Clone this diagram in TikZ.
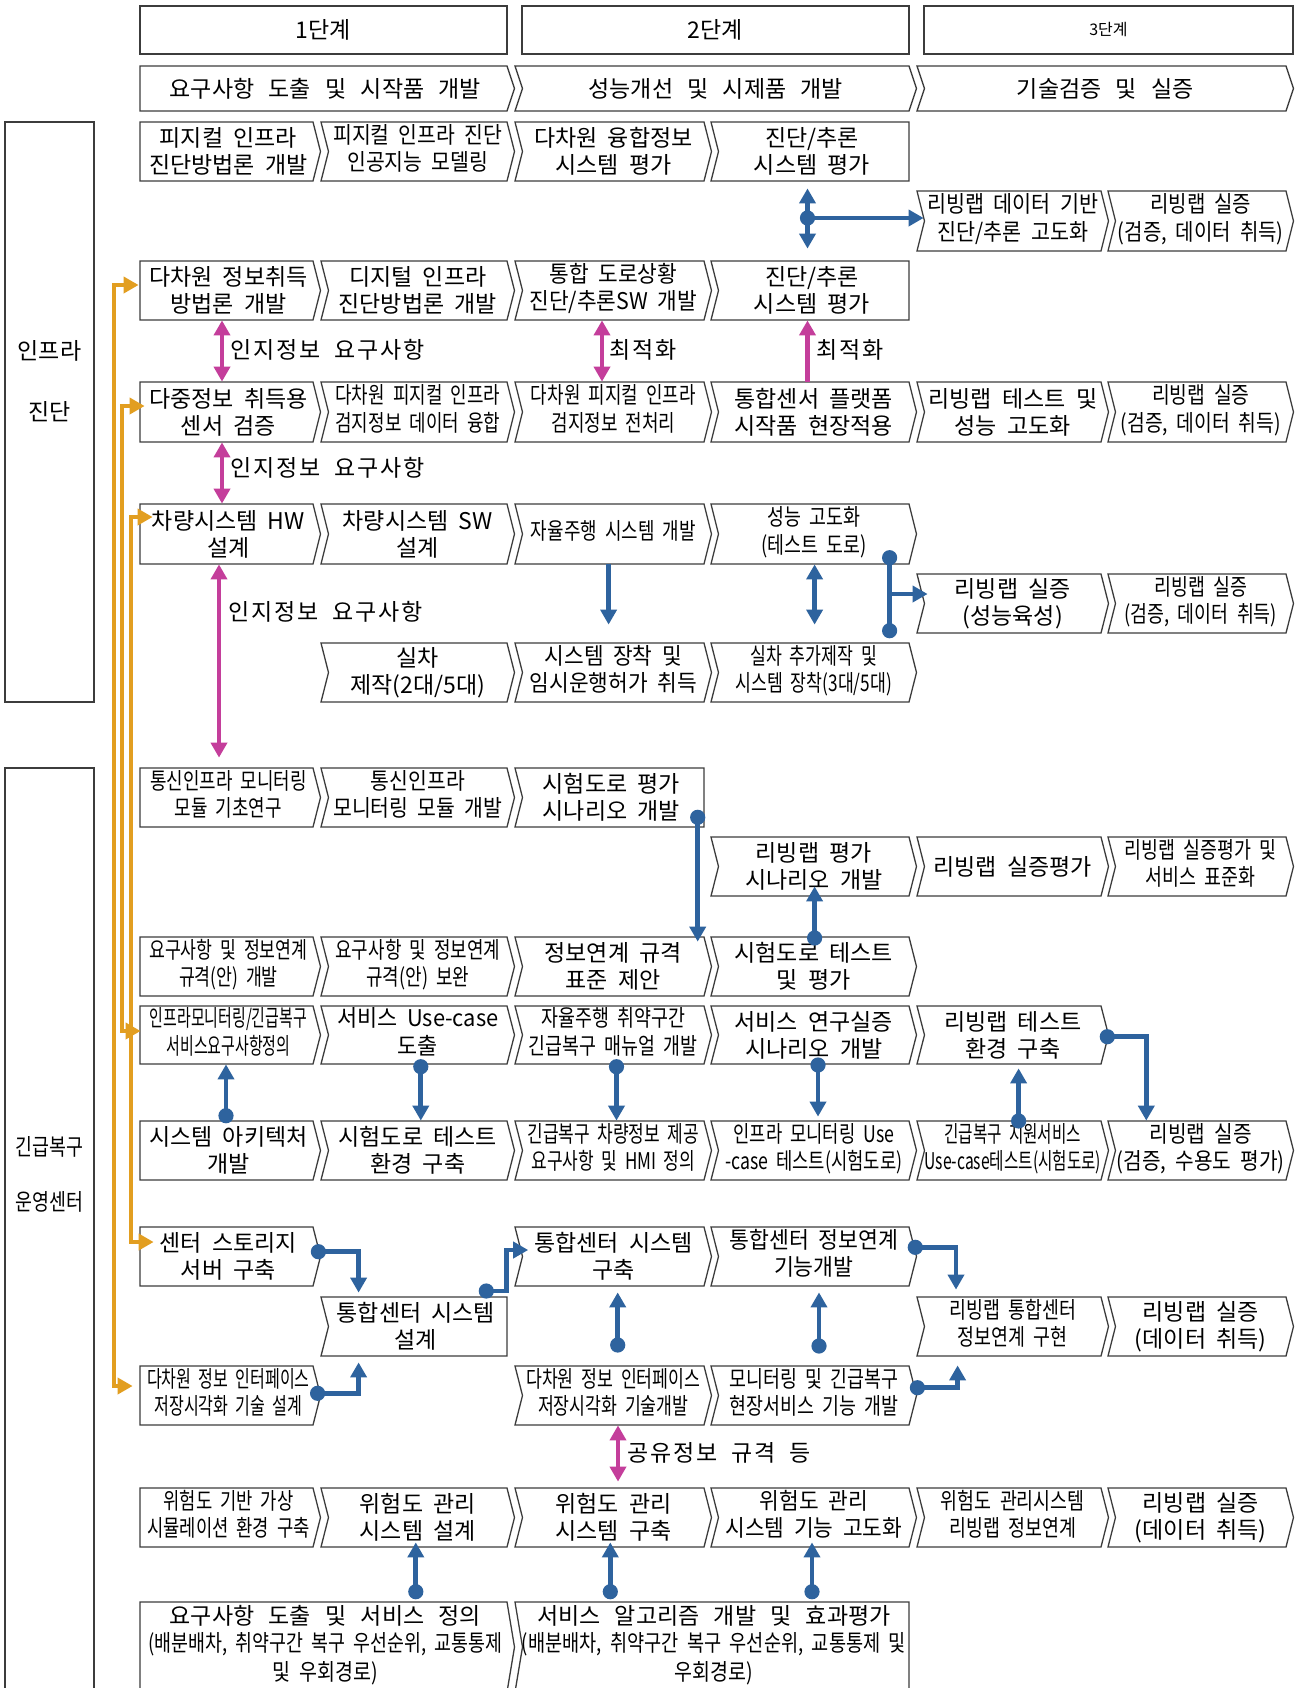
\documentclass[tikz,border=0pt]{standalone}
\usepackage{fontspec}
\setmainfont{Noto Sans CJK KR}[WordSpace=2]
\usepackage{graphicx}
\usetikzlibrary{arrows.meta,calc}
\definecolor{blu}{RGB}{46,99,158}
\definecolor{mag}{RGB}{196,62,155}
\definecolor{org}{RGB}{226,158,32}
\definecolor{edge}{RGB}{60,60,60}
\newcommand\tx[2]{\scalebox{#1}[1]{\begin{tabular}{@{}c@{}}#2\end{tabular}}}
\newcommand\w{\hspace{2pt}}
% name x1 x2 y1 y2 leftnotch righttip text
\newcommand\cb[8]{%
  \ifnum#6=1 \def\lpart{-- ({#2+7.5},{(#4+#5)/2})}\else\def\lpart{}\fi
  \ifnum#7=1 \def\rpart{-- ({#3+7.5},{(#4+#5)/2})}\else\def\rpart{}\fi
  \draw[boxline] (#2,#4) -- (#3,#4) \rpart -- (#3,#5) -- (#2,#5) \lpart -- cycle;
  \node[boxarea,minimum width={(#3-#2)*0.5pt},minimum height={(#5-#4)*0.5pt}] (#1) at ({(#2+#3)/2},{(#4+#5)/2}) {};
  \node[boxtext] (#1t) at ({(#2+#3)/2+1.9*(#6+#7)},{(#4+#5)/2}) {#8};}
\begin{document}
\begin{tikzpicture}[x=0.5pt,y=-0.5pt,
  boxline/.style={draw=edge,line width=0.65pt,line join=miter},
  boxarea/.style={inner sep=0pt},
  boxtext/.style={inner sep=0pt,align=center,font=\fontsize{11.5}{13.5}\selectfont,text=black},
  blD/.style={draw=blu,line width=2.4pt,-{Triangle[width=8pt,length=7.5pt]}},
  bl2/.style={draw=blu,line width=2.4pt,{Triangle[width=8pt,length=7.5pt]}-{Triangle[width=8pt,length=7.5pt]}},
  blL/.style={draw=blu,line width=2.4pt},
  mg/.style={draw=mag,line width=2.4pt,{Triangle[width=8pt,length=7.5pt]}-{Triangle[width=8pt,length=7.5pt]}},
  mg1/.style={draw=mag,line width=2.4pt,-{Triangle[width=8pt,length=7.5pt]}},
  og/.style={draw=org,line width=2.2pt,{Triangle[width=8pt,length=7.5pt]}-{Triangle[width=8pt,length=7.5pt]}},
  bdot/.style={circle,fill=blu,inner sep=0pt,minimum size=7.6pt},
  lbl/.style={inner sep=0pt,anchor=west,font=\fontsize{11.5}{13}\selectfont\addfontfeature{LetterSpace=8}},
]
\useasboundingbox (0,0) rectangle (1301,1688);
\fill[white] (0,0) rectangle (1301,1688);
\clip (0,0) rectangle (1301,1688);

% headers
\cb{h1}{140}{507}{6}{54}{0}{0}{1단계}
\cb{h2}{522}{909}{6}{54}{0}{0}{2단계}
\cb{h3}{924}{1293}{6}{54}{0}{0}{\fontsize{8}{9}\selectfont 3단계}
\cb{p1}{140}{507}{66}{111}{0}{1}{요구사항 \w 도출 \w 및 \w 시작품 \w 개발}
\cb{p2}{515}{909}{66}{111}{1}{1}{성능개선 \w 및 \w 시제품 \w 개발}
\cb{p3}{917}{1286}{66}{111}{1}{1}{기술검증 \w 및 \w 실증}

% group boxes
\cb{g1}{5}{94}{122}{702}{0}{0}{}
\cb{g2}{5}{94}{768}{1720}{0}{0}{}
\node[boxtext] (g1a) at (49.5,351) {인프라};
\node[boxtext] (g1b) at (49.5,412) {진단};
\node[boxtext] (g2a) at (49.5,1150) {\tx{0.8}{긴급복구}};
\node[boxtext] (g2b) at (49.5,1205) {\tx{0.8}{운영센터}};

% row 1
\cb{n1A}{140}{313}{122}{181}{0}{1}{피지컬 인프라\\진단방법론 개발}
\cb{n1B}{321}{507}{122}{181}{1}{1}{\tx{0.89}{피지컬 인프라 진단\\인공지능 모델링}}
\cb{n1C}{515}{704}{122}{181}{1}{1}{다차원 융합정보\\시스템 평가}
\cb{n1D}{711}{909}{122}{181}{1}{0}{진단/추론\\시스템 평가}
\cb{nPE}{917}{1101}{191}{251}{1}{1}{\tx{0.9}{리빙랩 데이터 기반\\진단/추론 고도화}}
\cb{nPF}{1108}{1286}{191}{251}{1}{1}{\tx{0.87}{리빙랩 실증\\(검증, 데이터 취득)}}
% row 2
\cb{n2A}{140}{313}{261}{320}{0}{1}{다차원 정보취득\\방법론 개발}
\cb{n2B}{321}{507}{261}{320}{1}{1}{디지털 인프라\\진단방법론 개발}
\cb{n2C}{515}{704}{261}{320}{1}{1}{\tx{0.93}{통합 도로상황\\진단/추론SW 개발}}
\cb{n2D}{711}{909}{261}{320}{1}{0}{진단/추론\\시스템 평가}
% row 3
\cb{n3A}{140}{313}{382}{442}{0}{1}{다중정보 취득용\\센서 검증}
\cb{n3B}{321}{507}{382}{442}{1}{1}{\tx{0.78}{다차원 피지컬 인프라\\검지정보 데이터 융합}}
\cb{n3C}{515}{704}{382}{442}{1}{1}{\tx{0.78}{다차원 피지컬 인프라\\검지정보 전처리}}
\cb{n3D}{711}{909}{382}{442}{1}{1}{통합센서 플랫폼\\시작품 현장적용}
\cb{n3E}{917}{1101}{382}{442}{1}{1}{리빙랩 테스트 및\\성능 고도화}
\cb{n3F}{1108}{1286}{382}{442}{1}{1}{\tx{0.84}{리빙랩 실증\\(검증, 데이터 취득)}}
% row 4
\cb{n4A}{140}{313}{504}{564}{0}{1}{차량시스템 HW\\설계}
\cb{n4B}{321}{507}{504}{564}{1}{1}{차량시스템 SW\\설계}
\cb{n4C}{515}{704}{504}{564}{1}{1}{\tx{0.78}{자율주행 시스템 개발}}
\cb{n4D}{711}{909}{504}{564}{1}{1}{\tx{0.8}{성능 고도화\\(테스트 도로)}}
\cb{nQE}{917}{1101}{574}{633}{1}{1}{리빙랩 실증\\(성능육성)}
\cb{nQF}{1108}{1286}{574}{633}{1}{1}{\tx{0.8}{리빙랩 실증\\(검증, 데이터 취득)}}
% row 5
\cb{n5B}{321}{507}{643}{702}{1}{1}{실차\\제작(2대/5대)}
\cb{n5C}{515}{704}{643}{702}{1}{1}{\tx{0.93}{시스템 장착 및\\임시운행허가 취득}}
\cb{n5D}{711}{909}{643}{702}{1}{1}{\tx{0.75}{실차 추가제작 및\\시스템 장착(3대/5대)}}
% row 6
\cb{n6A}{140}{313}{768}{827}{0}{1}{\tx{0.78}{통신인프라 모니터링\\모듈 기초연구}}
\cb{n6B}{321}{507}{768}{827}{1}{1}{\tx{0.89}{통신인프라\\모니터링 모듈 개발}}
\cb{n6C}{515}{704}{768}{827}{1}{0}{시험도로 평가\\시나리오 개발}
\cb{nSD}{711}{909}{837}{896}{1}{1}{리빙랩 평가\\시나리오 개발}
\cb{nSE}{917}{1101}{837}{896}{1}{1}{리빙랩 실증평가}
\cb{nSF}{1108}{1286}{837}{896}{1}{1}{\tx{0.8}{리빙랩 실증평가 및\\서비스 표준화}}
% row 7
\cb{n7A}{140}{313}{937}{996}{0}{1}{\tx{0.75}{요구사항 및 정보연계\\규격(안) 개발}}
\cb{n7B}{321}{507}{937}{996}{1}{1}{\tx{0.78}{요구사항 및 정보연계\\규격(안) 보완}}
\cb{n7C}{515}{704}{937}{996}{1}{1}{정보연계 규격\\표준 제안}
\cb{n7D}{711}{909}{937}{996}{1}{1}{시험도로 테스트\\및 평가}
% row 8
\cb{n8A}{140}{313}{1006}{1064}{0}{1}{\tx{0.65}{인프라모니터링/긴급복구\\서비스요구사항정의}}
\cb{n8B}{321}{507}{1006}{1064}{1}{1}{\tx{0.95}{서비스 Use-case\\도출}}
\cb{n8C}{515}{704}{1006}{1064}{1}{1}{\tx{0.8}{자율주행 취약구간\\긴급복구 매뉴얼 개발}}
\cb{n8D}{711}{909}{1006}{1064}{1}{1}{서비스 연구실증\\시나리오 개발}
\cb{n8E}{917}{1101}{1006}{1064}{1}{1}{리빙랩 테스트\\환경 구축}
% row 9
\cb{n9A}{140}{313}{1121}{1180}{0}{1}{시스템 아키텍처\\개발}
\cb{n9B}{321}{507}{1121}{1180}{1}{1}{시험도로 테스트\\환경 구축}
\cb{n9C}{515}{704}{1121}{1180}{1}{1}{\tx{0.74}{긴급복구 차량정보 제공\\요구사항 및 HMI 정의}}
\cb{n9D}{711}{909}{1121}{1180}{1}{1}{\tx{0.77}{인프라 모니터링 Use\\-case 테스트(시험도로)}}
\cb{n9E}{917}{1101}{1121}{1180}{1}{1}{\tx{0.68}{긴급복구 지원서비스\\Use-case테스트(시험도로)}}
\cb{n9F}{1108}{1286}{1121}{1180}{1}{1}{\tx{0.88}{리빙랩 실증\\(검증, 수용도 평가)}}
% row 10
\cb{n10A}{140}{313}{1227}{1286}{0}{1}{센터 스토리지\\서버 구축}
\cb{n10C}{515}{704}{1227}{1286}{1}{1}{통합센터 시스템\\구축}
\cb{n10D}{711}{909}{1227}{1286}{1}{1}{\tx{0.94}{통합센터 정보연계\\기능개발}}
% row 11
\cb{n11B}{321}{507}{1297}{1356}{1}{0}{통합센터 시스템\\설계}
\cb{n11E}{917}{1101}{1297}{1356}{1}{1}{\tx{0.8}{리빙랩 통합센터\\정보연계 구현}}
\cb{n11F}{1108}{1286}{1297}{1356}{1}{1}{리빙랩 실증\\(데이터 취득)}
% row 12
\cb{n12A}{140}{313}{1366}{1425}{0}{1}{\tx{0.7}{다차원 정보 인터페이스\\저장시각화 기술 설계}}
\cb{n12C}{515}{704}{1366}{1425}{1}{1}{\tx{0.75}{다차원 정보 인터페이스\\저장시각화 기술개발}}
\cb{n12D}{711}{909}{1366}{1425}{1}{1}{\tx{0.8}{모니터링 및 긴급복구\\현장서비스 기능 개발}}
% row 13
\cb{n13A}{140}{313}{1488}{1547}{0}{1}{\tx{0.77}{위험도 기반 가상\\시뮬레이션 환경 구축}}
\cb{n13B}{321}{507}{1488}{1547}{1}{1}{위험도 관리\\시스템 설계}
\cb{n13C}{515}{704}{1488}{1547}{1}{1}{위험도 관리\\시스템 구축}
\cb{n13D}{711}{909}{1488}{1547}{1}{1}{\tx{0.93}{위험도 관리\\시스템 기능 고도화}}
\cb{n13E}{917}{1101}{1488}{1547}{1}{1}{\tx{0.8}{위험도 관리시스템\\리빙랩 정보연계}}
\cb{n13F}{1108}{1286}{1488}{1547}{1}{1}{리빙랩 실증\\(데이터 취득)}
% row 14
\cb{n14A}{140}{507}{1602}{1692}{0}{1}{요구사항 \w 도출 \w 및 \w 서비스 \w 정의\\\tx{0.8}{(배분배차, 취약구간 복구 우선순위, 교통통제}\\\tx{0.85}{및 우회경로)}}
\cb{n14C}{515}{909}{1602}{1692}{1}{0}{서비스 \w 알고리즘 \w 개발 \w 및 \w 효과평가\\\tx{0.81}{(배분배차, 취약구간 복구 우선순위, 교통통제 및}\\\tx{0.85}{우회경로)}}

% labels
\node[lbl] (t1) at (230,350) {인지정보 요구사항};
\node[lbl] (t2) at (609,350) {최적화};
\node[lbl] (t3) at (816,350) {최적화};
\node[lbl] (t4) at (230,468) {인지정보 요구사항};
\node[lbl] (t5) at (228,612) {인지정보 요구사항};
\node[lbl] (t6) at (627,1453) {공유정보 규격 등};

% orange
\draw[og] ($(n2A.west |- 0,285)+(-1,0)$) -- (114,285) -- (114,1386) -- ($(n12A.west |- 0,1386)+(-7,0)$);
\draw[og] ($(n3A.west |- 0,406)+(5,0)$) -- (122,406) -- (122,1031) -- ($(n8A.west |- 0,1031)+(1,0)$);
\draw[og] ($(n4A.west |- 0,517)+(13,0)$) -- (131,517) -- (131,1242) -- ($(n10A.west |- 0,1242)+(14,0)$);

% magenta
\draw[mg] (n2A.south -| 222,0) -- (n3A.north -| 222,0);
\draw[mg] (n2C.south -| 602,0) -- (n3C.north -| 602,0);
\draw[mg1] (n3D.north -| 807.5,0) -- (n2D.south -| 807.5,0);
\draw[mg] (n3A.south -| 222,0) -- (n4A.north -| 222,0);
\draw[mg,shorten >=5pt] (n4A.south -| 219,0) -- (n6A.north -| 219,0);
\draw[mg,shorten >=3pt] (n12C.south -| 618,0) -- (n13C.north -| 618,0);

% blue
\node[bdot] (dA) at (807.5,218) {};
\draw[bl2,shorten <=3.5pt,shorten >=6pt] (n1D.south -| dA) -- (n2D.north -| dA);
\draw[blD] (dA.center) -- ($(nPE.west |- dA)+(7,0)$);
\draw[blD,shorten >=9pt] (n4C.south -| 608.6,0) -- (n5C.north -| 608.6,0);
\draw[bl2,shorten >=9pt] (n4D.south -| 814.6,0) -- (n5D.north -| 814.6,0);
\node[bdot] (dD1) at (889.6,557.7) {};
\node[bdot] (dD2) at (889.6,630.7) {};
\coordinate (dDm) at (889.6,594);
\draw[blL] (dD1.center) -- (dD2.center);
\draw[blD] (dDm) -- ($(nQE.west |- dDm)+(11,0)$);
\node[bdot] (dE) at (697.7,817.3) {};
\draw[blD,shorten >=-2.5pt] (dE.center) -- (n7C.north -| dE);
\node[bdot] (dF) at (814.6,938) {};
\draw[blD,shorten >=-5pt] (dF.center) -- (nSD.south -| dF);
\node[bdot] (dG) at (226,1115.7) {};
\draw[blD] (dG.center) -- (n8A.south -| dG);
\node[bdot] (dH) at (420.8,1066.7) {};
\draw[blD] (dH.center) -- (n9B.north -| dH);
\node[bdot] (dI) at (616.5,1066.7) {};
\draw[blD] (dI.center) -- (n9C.north -| dI);
\node[bdot] (dJ) at (818,1065) {};
\draw[blD,shorten >=2pt] (dJ.center) -- (n9D.north -| dJ);
\node[bdot] (dK) at (1018.6,1121) {};
\draw[blD,shorten >=2pt] (dK.center) -- (n8E.south -| dK);
\node[bdot] (dL) at (1107.3,1036.7) {};
\draw[blD] (dL.center) -| (n9F.north -| 1146.3,0);
\node[bdot] (dM) at (318.4,1251.7) {};
\draw[blD,shorten >=2pt] (dM.center) -| (n11B.north -| 358.6,0);
\node[bdot] (dN) at (486.3,1291) {};
\draw[blD] (dN.center) -- (506.6,1291) |- ($(n10C.west |- 0,1250)+(13.6,0)$);
\node[bdot] (dO) at (317.6,1393.3) {};
\draw[blD,shorten >=3pt] (dO.center) -| (n11B.south -| 358.6,0);
\node[bdot] (dP) at (617.7,1345) {};
\draw[blD,shorten >=3pt] (dP.center) -- (n10C.south -| dP);
\node[bdot] (dQ) at (819,1346) {};
\draw[blD,shorten >=3pt] (dQ.center) -- (n10D.south -| dQ);
\node[bdot] (dR) at (915.3,1247.3) {};
\draw[blD,shorten >=3.5pt] (dR.center) -| (n11E.north -| 956,0);
\node[bdot] (dS) at (917.4,1387.7) {};
\draw[blD,shorten >=4.5pt] (dS.center) -| (n11E.south -| 957.6,0);
\node[bdot] (dT) at (415.8,1591.7) {};
\draw[blD,shorten >=-2.5pt] (dT.center) -- (n13B.south -| dT);
\node[bdot] (dU) at (610.3,1591.7) {};
\draw[blD,shorten >=-2.5pt] (dU.center) -- (n13C.south -| dU);
\node[bdot] (dV) at (812,1591.7) {};
\draw[blD,shorten >=-2.5pt] (dV.center) -- (n13D.south -| dV);
\end{tikzpicture}
\end{document}
